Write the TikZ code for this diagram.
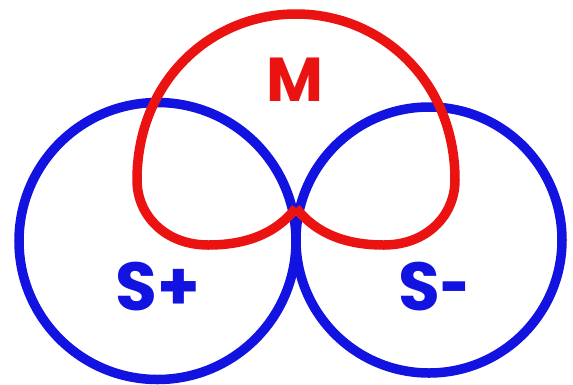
\documentclass[tikz,border=0pt]{standalone}
\usepackage{fontspec}
\newfontfamily\markfont{Poppins}
\definecolor{sblue}{RGB}{18,18,225}
\definecolor{mred}{RGB}{235,18,18}
\begin{document}
\begin{tikzpicture}[x=1pt, y=-1pt,
    ring/.style={line width=9.5pt},
    signlabel/.style={inner sep=0pt}]
  \useasboundingbox (0,0) rectangle (573,384);
  % S+ circle
  \draw[ring, sblue] (157.5,241) circle[radius=138.5];
  % S- circle
  \draw[ring, sblue] (429,240) circle[radius=133];
  % M loop (cusp at the touching point)
  \draw[ring, mred, line join=round] (296,208)
    .. controls (274,236) and (242,245) .. (208,245)
    .. controls (166,245) and (137,216) .. (137,180)
    .. controls (137,82) and (210,14) .. (296,14)
    .. controls (382,14) and (455,82) .. (455,180)
    .. controls (455,216) and (426,245) .. (384,245)
    .. controls (350,245) and (318,236) .. (296,208);
  % Labels
  \node[signlabel, text=mred, font=\markfont\bfseries\fontsize{62}{62}\selectfont] (mlabel) at (295,80) {M};
  \node[signlabel, text=sblue, font=\markfont\bfseries\fontsize{68}{68}\selectfont] (splus) at (158,287) {S+};
  \node[signlabel, text=sblue, font=\markfont\bfseries\fontsize{68}{68}\selectfont] (sminus) at (434,287) {S\scalebox{0.75}[1]{-}};
\end{tikzpicture}
\end{document}
